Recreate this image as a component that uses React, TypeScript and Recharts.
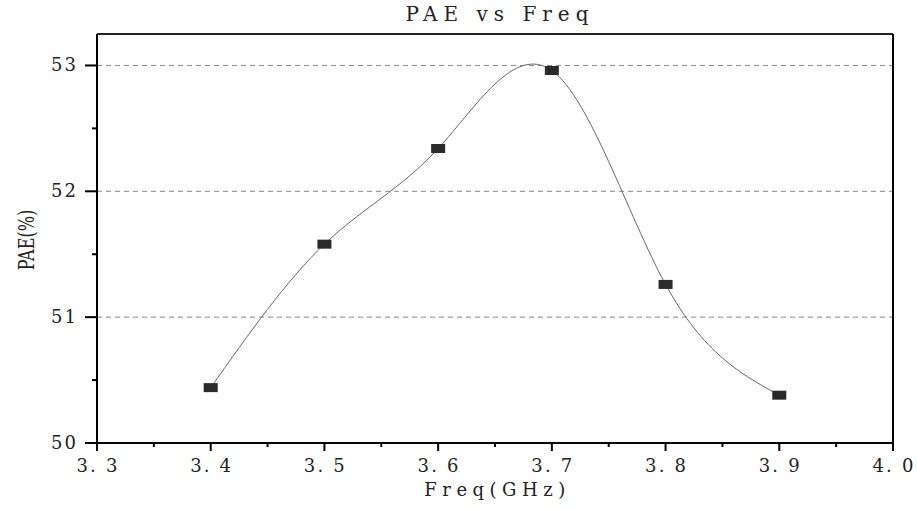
import React from "react";
import { LineChart, Line, XAxis, YAxis, ReferenceLine } from "recharts";

const freq = [3.4, 3.5, 3.6, 3.7, 3.8, 3.9];
const pae = [50.44, 51.58, 52.34, 52.96, 51.26, 50.38];

const xTicks = [3.3, 3.35, 3.4, 3.45, 3.5, 3.55, 3.6, 3.65, 3.7, 3.75, 3.8, 3.85, 3.9, 3.95, 4.0];
const xLabels = ["3. 3", "3. 4", "3. 5", "3. 6", "3. 7", "3. 8", "3. 9", "4. 0"];
const yTicks = [50, 50.5, 51, 51.5, 52, 52.5, 53];
const gridValues = [51, 52, 53];

const data = freq.map((f, i) => ({ f, v: pae[i] }));

const serif = "DejaVu Serif, Liberation Serif, serif";

const XTick = (props: any) => {
  const { x, y, index } = props;
  const major = index % 2 === 0;
  return (
    <g>
      <line x1={x} x2={x} y1={y} y2={y + (major ? 8 : 4)} stroke="#000" strokeWidth={2} />
      {major && (
        <text x={x + 1} y={y + 29} textAnchor="middle" fontFamily={serif} fontSize={18} letterSpacing={2.2} fill="#222">
          {xLabels[index / 2]}
        </text>
      )}
    </g>
  );
};

const YTick = (props: any) => {
  const { x, y, index } = props;
  const major = index % 2 === 0;
  return (
    <g>
      <line x1={x} x2={x - (major ? 12 : 5)} y1={y} y2={y} stroke="#000" strokeWidth={2} />
      {major && (
        <text x={x - 19} y={y + 6} textAnchor="end" fontFamily={serif} fontSize={18} letterSpacing={2} fill="#222">
          {String(yTicks[index])}
        </text>
      )}
    </g>
  );
};

const Marker = (props: any) => {
  const { cx, cy } = props;
  return <rect x={cx - 7} y={cy - 4.5} width={14} height={9} fill="#2a2a2a" />;
};

export default function App() {
  return (
    <div style={{ position: "absolute", left: 0, top: 0, width: 917, height: 509, background: "#fff" }}>
      <LineChart width={917} height={509} data={data} margin={{ top: 34, right: 24, bottom: 0, left: 0 }}>
        <XAxis
          dataKey="f"
          type="number"
          domain={[3.3, 4.0]}
          ticks={xTicks}
          interval={0}
          height={66}
          tickSize={0}
          tickMargin={0}
          tickLine={false}
          axisLine={{ stroke: "#000", strokeWidth: 2 }}
          tick={<XTick />}
        />
        <YAxis
          type="number"
          domain={[50, 53.25]}
          ticks={yTicks}
          interval={0}
          width={97}
          tickSize={0}
          tickMargin={0}
          tickLine={false}
          axisLine={{ stroke: "#000", strokeWidth: 2 }}
          tick={<YTick />}
          allowDataOverflow
        />
        {gridValues.map((g) => (
          <ReferenceLine key={g} y={g} stroke="#888" strokeDasharray="5 4" strokeWidth={1} />
        ))}
        <ReferenceLine y={53.25} stroke="#222" strokeWidth={2} />
        <ReferenceLine x={4.0} stroke="#000" strokeWidth={2} />
        <Line
          type="natural"
          dataKey="v"
          stroke="#666"
          strokeWidth={1}
          dot={<Marker />}
          activeDot={false}
          isAnimationActive={false}
        />
      </LineChart>
      <div
        style={{
          position: "absolute",
          left: 0,
          top: 2,
          width: 1000,
          textAlign: "center",
          fontFamily: serif,
          fontSize: 20,
          letterSpacing: 6,
          color: "#222",
        }}
      >
        PAE vs Freq
      </div>
      <div
        style={{
          position: "absolute",
          left: 0,
          top: 479,
          width: 995,
          textAlign: "center",
          fontFamily: serif,
          fontSize: 18,
          letterSpacing: 5.5,
          color: "#222",
        }}
      >
        Freq(GHz)
      </div>
      <div style={{ position: "absolute", left: 27, top: 240, width: 0, height: 0 }}>
        <div
          style={{
            position: "absolute",
            left: -60,
            top: -14,
            width: 120,
            textAlign: "center",
            fontFamily: serif,
            fontSize: 22,
            lineHeight: "28px",
            color: "#222",
            transform: "rotate(-90deg) scale(0.73, 1)",
            whiteSpace: "nowrap",
          }}
        >
          PAE(%)
        </div>
      </div>
    </div>
  );
}
